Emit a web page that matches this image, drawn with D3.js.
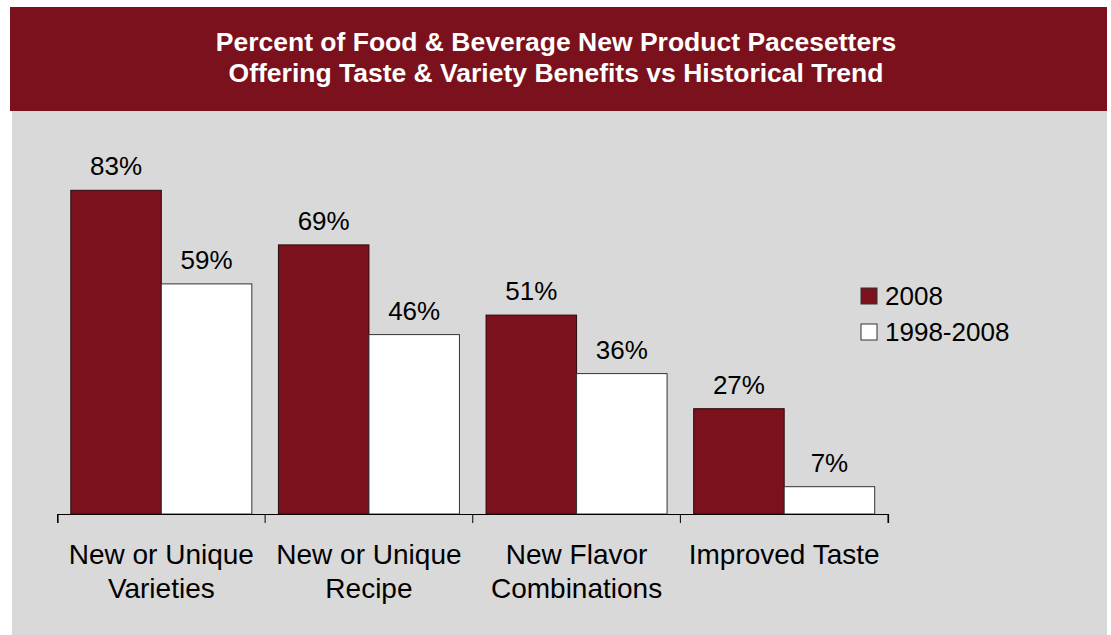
<!DOCTYPE html>
<html>
<head>
<meta charset="utf-8">
<script src="https://cdn.jsdelivr.net/npm/d3@7"></script>
<style>
  html, body { margin: 0; padding: 0; background: #ffffff; }
  svg { display: block; }
  text { font-family: "Liberation Sans", Arial, sans-serif; }
</style>
</head>
<body>
<svg id="chart" width="1111" height="635"></svg>
<script>
// Chart data
const titleLines = [
  "Percent of Food & Beverage New Product Pacesetters",
  "Offering Taste & Variety Benefits vs Historical Trend"
];
const categories = [
  ["New or Unique", "Varieties"],
  ["New or Unique", "Recipe"],
  ["New Flavor", "Combinations"],
  ["Improved Taste"]
];
const seriesNames = ["2008", "1998-2008"];
const values2008 = [83, 69, 51, 27];
const valuesTrend = [59, 46, 36, 7];

const maroon = "#7a111d";
const panelGray = "#d9d9d9";

const svg = d3.select("#chart");

// Title banner and grey panel
svg.append("rect").attr("x", 12).attr("y", 111).attr("width", 1095).attr("height", 530)
  .attr("fill", panelGray);
svg.append("rect").attr("x", 10).attr("y", 7).attr("width", 1097).attr("height", 104)
  .attr("fill", maroon);

svg.append("text")
  .attr("x", 556).attr("text-anchor", "middle")
  .attr("fill", "#ffffff").attr("font-weight", "bold").attr("font-size", 26.5)
  .selectAll("tspan").data(titleLines).join("tspan")
  .attr("x", 556).attr("y", (d, i) => 50.5 + i * 31.5)
  .text(d => d);

// Scales
const keys = categories.map(c => c.join(" "));
const x0 = d3.scaleBand().domain(keys).range([57.5, 888]).padding(0);
const x1 = d3.scaleBand().domain(seriesNames).range([0, x0.bandwidth()]).paddingInner(0).paddingOuter(0.147);
const y = d3.scaleLinear().domain([0, 100]).range([514, 124]);

const rows = keys.map((k, i) => ({ key: k, vals: [values2008[i], valuesTrend[i]] }));

// Bars
const groups = svg.append("g").selectAll("g").data(rows).join("g")
  .attr("transform", d => `translate(${x0(d.key)},0)`);

groups.selectAll("rect").data(d => d.vals.map((v, j) => ({ s: seriesNames[j], v })))
  .join("rect")
  .attr("x", d => x1(d.s))
  .attr("y", d => y(d.v))
  .attr("width", x1.bandwidth())
  .attr("height", d => y(0) - y(d.v))
  .attr("fill", d => d.s === "2008" ? maroon : "#ffffff")
  .attr("stroke", d => d.s === "2008" ? "#2a0a0c" : "#333333")
  .attr("stroke-width", 1);

// Value labels
groups.selectAll("text.val").data(d => d.vals.map((v, j) => ({ s: seriesNames[j], v })))
  .join("text").attr("class", "val")
  .attr("x", d => x1(d.s) + x1.bandwidth() / 2)
  .attr("y", d => y(d.v) - 15)
  .attr("text-anchor", "middle")
  .attr("font-size", 26).attr("fill", "#000")
  .text(d => d.v + "%");

// Category axis
const axis = d3.axisBottom(x0).tickSize(9).tickSizeOuter(9).tickFormat("");
const axisG = svg.append("g").attr("transform", `translate(0,${y(0)})`).call(axis);
axisG.select(".domain").attr("stroke", "#000").attr("stroke-width", 1.2);
axisG.selectAll(".tick").remove();
const boundaries = [x0.range()[0]].concat(keys.map(k => x0(k) + x0.bandwidth()));
axisG.selectAll("line.sep").data(boundaries).join("line").attr("class", "sep")
  .attr("x1", d => d).attr("x2", d => d).attr("y1", 0).attr("y2", 9)
  .attr("stroke", "#000").attr("stroke-width", 1);

// Category labels
svg.append("g").selectAll("text").data(categories).join("text")
  .attr("text-anchor", "middle").attr("font-size", 28).attr("fill", "#000")
  .each(function (lines, i) {
    const cx = x0(keys[i]) + x0.bandwidth() / 2;
    d3.select(this).selectAll("tspan").data(lines).join("tspan")
      .attr("x", cx).attr("y", (d, j) => 563.5 + j * 34.5)
      .text(d => d);
  });

// Legend
const legend = svg.append("g").selectAll("g").data(seriesNames).join("g")
  .attr("transform", (d, i) => `translate(861,${288 + i * 36})`);
legend.append("rect").attr("width", 16).attr("height", 16)
  .attr("fill", (d, i) => i === 0 ? maroon : "#ffffff")
  .attr("stroke", "#333").attr("stroke-width", 1);
legend.append("text").attr("x", 24).attr("y", 17)
  .attr("font-size", 26).attr("fill", "#000")
  .text(d => d);
</script>
</body>
</html>
